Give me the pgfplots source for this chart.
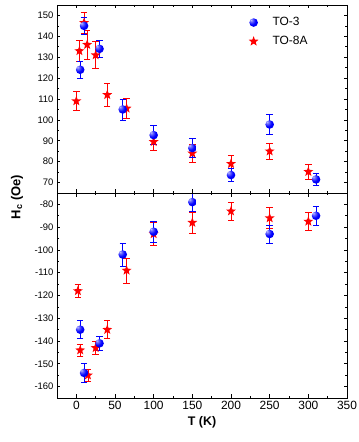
\documentclass[border=0pt]{standalone}
\usepackage{pgfplots}
\pgfplotsset{compat=1.18}
\usepackage{fontspec}
\setmainfont{Liberation Sans}
\pgfdeclareplotmark{fstar}{%
  \pgfpathmoveto{\pgfqpointpolar{90}{\pgfplotmarksize}}%
  \pgfpathlineto{\pgfqpointpolar{126}{0.42\pgfplotmarksize}}%
  \pgfpathlineto{\pgfqpointpolar{162}{\pgfplotmarksize}}%
  \pgfpathlineto{\pgfqpointpolar{198}{0.42\pgfplotmarksize}}%
  \pgfpathlineto{\pgfqpointpolar{234}{\pgfplotmarksize}}%
  \pgfpathlineto{\pgfqpointpolar{270}{0.42\pgfplotmarksize}}%
  \pgfpathlineto{\pgfqpointpolar{306}{\pgfplotmarksize}}%
  \pgfpathlineto{\pgfqpointpolar{342}{0.42\pgfplotmarksize}}%
  \pgfpathlineto{\pgfqpointpolar{18}{\pgfplotmarksize}}%
  \pgfpathlineto{\pgfqpointpolar{54}{0.42\pgfplotmarksize}}%
  \pgfpathclose
  \pgfusepathqfill}
\pgfdeclareradialshading{bballshade}{\pgfqpoint{-16bp}{16bp}}{%
  color(0bp)=(blue!25!white); color(9bp)=(blue!60!white); color(22bp)=(blue);
  color(50bp)=(blue!85!black); color(70bp)=(blue!85!black)}
\pgfdeclareplotmark{bball}{%
  \pgfpathcircle{\pgfpointorigin}{\pgfplotmarksize}%
  \pgfshadepath{bballshade}{0}%
  \pgfusepath{}}
\pgfplotsset{
  panel/.style={
    scale only axis, width=290bp,
    xmin=-25, xmax=350,
    xtick={0,50,...,350}, minor xtick={-25,25,75,...,325},
    tick align=inside, major tick length=3.5bp, minor tick length=2bp,
    tick style={black, line width=0.7pt},
    axis line style={line width=0.9pt},
    yticklabel style={font=\fontsize{9.5}{10}\selectfont, /pgf/number format/fixed},
    xticklabel style={font=\fontsize{12}{13}\selectfont},
    /pgf/number format/assume math mode=true,
    clip=false,
  },
  bluepts/.style={only marks, mark=bball, mark size=4.3bp,
    error bars/.cd, y dir=both, y explicit,
    error bar style={blue, line width=0.7pt},
    error mark options={blue, mark size=3.2bp, line width=0.7pt, rotate=90}},
  redpts/.style={only marks, mark=fstar, mark size=5.2bp, mark options={fill=red, draw=none},
    error bars/.cd, y dir=both, y explicit,
    error bar style={red, line width=0.7pt},
    error mark options={red, mark size=3.2bp, line width=0.7pt, rotate=90}},
}
\begin{document}
\begin{tikzpicture}
\useasboundingbox (0,0) rectangle (359bp,442bp);
% bottom panel
\begin{axis}[panel, name=bot, at={(57bp,44bp)}, anchor=south west,
  height=205bp, ymin=-165, ymax=-75,
  ytick={-160,-150,...,-80}, minor ytick={-165,-155,...,-75},
  xlabel={\bfseries T (K)}, xlabel style={font=\fontsize{12.5}{13}\selectfont, yshift=0bp},
]
\addplot+[redpts] coordinates {
 (2,-118) +- (0,3)
 (5,-144) +- (0,2.5)
 (15,-155) +- (0,2.5)
 (25,-143) +- (0,3)
 (40,-135) +- (0,4)
 (65,-109) +- (0,5.5)
 (100,-93) +- (0,5)
 (150,-88) +- (0,4.5)
 (200,-83) +- (0,4)
 (250,-86) +- (0,4.5)
 (300,-87.5) +- (0,4)
};
\addplot+[bluepts] coordinates {
 (5,-135) +- (0,4)
 (10,-154) +- (0,4)
 (30,-141) +- (0,3)
 (60,-102) +- (0,5)
 (100,-92) +- (0,4.5)
 (150,-79) +- (0,4)
 (250,-93) +- (0,4)
 (310,-85) +- (0,4)
};
\end{axis}
% top panel
\begin{axis}[panel, name=top, at={(57bp,249bp)}, anchor=south west,
  height=188bp, ymin=65, ymax=155,
  ytick={70,80,...,150}, minor ytick={65,75,...,155},
  xticklabels={},
  legend style={draw=none, fill=none, at={(0.65,0.955)}, anchor=north west,
    font=\fontsize{12}{13}\selectfont, row sep=5bp, column sep=12bp, cells={anchor=west}},
  legend cell align=left, reverse legend,
]
\addplot+[redpts] coordinates {
 (0,109) +- (0,4.5)
 (4,133) +- (0,5)
 (10,146.5) +- (0,5)
 (14,136) +- (0,7)
 (25,131) +- (0,6.5)
 (40,112) +- (0,5.5)
 (65,105.5) +- (0,5)
 (100,89.5) +- (0,4)
 (150,84) +- (0,4.5)
 (200,79) +- (0,4)
 (250,85) +- (0,4)
 (300,75.2) +- (0,3.5)
};
\addlegendentry{TO-8A}
\addplot+[bluepts] coordinates {
 (5,124) +- (0,4)
 (10,145) +- (0,4)
 (30,134) +- (0,4)
 (60,105) +- (0,5)
 (100,92.7) +- (0,4.5)
 (150,86.5) +- (0,4.5)
 (200,73.6) +- (0,3)
 (250,97.8) +- (0,4.8)
 (310,71.5) +- (0,3)
};
\addlegendentry{TO-3}
\end{axis}
\node[rotate=90, font=\bfseries\fontsize{13}{14}\selectfont] at (17bp,245bp) {H\textsubscript{c} (Oe)};
\end{tikzpicture}
\end{document}
